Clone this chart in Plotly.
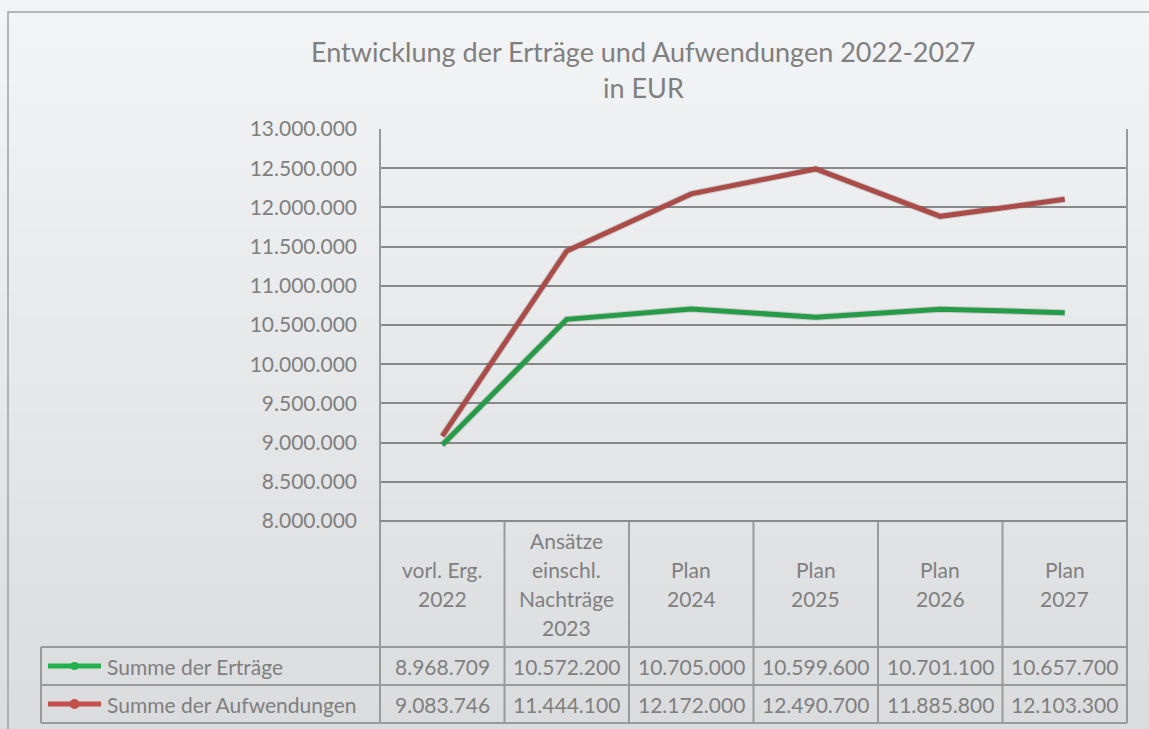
import plotly.graph_objects as go

# ---------------- data ----------------
categories = ["vorl. Erg.<br>2022", "Ansätze<br>einschl.<br>Nachträge<br>2023",
              "Plan<br>2024", "Plan<br>2025", "Plan<br>2026", "Plan<br>2027"]
series_names = ["Summe der Erträge", "Summe der Aufwendungen"]
ertraege = [8968709, 10572200, 10705000, 10599600, 10701100, 10657700]
aufwendungen = [9083746, 11444100, 12172000, 12490700, 11885800, 12103300]
y_ticks = [8000000, 8500000, 9000000, 9500000, 10000000, 10500000,
           11000000, 11500000, 12000000, 12500000, 13000000]
title_lines = ["Entwicklung der Erträge und Aufwendungen 2022-2027", "in EUR"]

# ---------------- style ----------------
W, H = 1149, 729
FONT = "Lato"
FS = 21
TXT = "#7f7f7f"
GRID = "#888888"
BORDER = "#9a9a9a"
colors = ["#22b14c", "#c4504c"]


def px(x):
    return x / W


def py(y):
    return 1 - y / H


def fmt(v):
    return f"{v:,}".replace(",", ".")


PL, PR, PT, PB = 380, 1127, 129, 521      # plot area in pixels
ROWS = [647, 685, 723]                     # table row bottoms
LEG_L = 41
xs = list(range(len(categories)))
series = [ertraege, aufwendungen]

fig = go.Figure()

# shadows
for vals in series:
    fig.add_trace(go.Scatter(x=xs, y=vals, mode="lines", xaxis="x2", yaxis="y2",
                             line=dict(color="rgba(60,60,60,0.18)", width=7),
                             hoverinfo="skip", showlegend=False))
# lines
for name, vals, c in zip(series_names, series, colors):
    fig.add_trace(go.Scatter(x=xs, y=vals, mode="lines", name=name,
                             line=dict(color=c, width=5), showlegend=False))

shapes = []
# background gradient
n = 60
c0, c1 = (243, 244, 245), (219, 220, 222)
for i in range(n):
    t = i / (n - 1)
    col = tuple(round(a + (b - a) * t) for a, b in zip(c0, c1))
    shapes.append(dict(type="rect", xref="paper", yref="paper", layer="below",
                       x0=0, x1=1, y0=py(H * (i + 1) / n + 0.5), y1=py(H * i / n),
                       line=dict(width=0), fillcolor="rgb(%d,%d,%d)" % col))
# outer frame
shapes.append(dict(type="rect", xref="paper", yref="paper", x0=px(8), x1=px(1170),
                   y0=py(750), y1=py(12), line=dict(color="#a0a0a0", width=1.5)))

# plot box verticals extending through table
for xp in (PL, PR):
    shapes.append(dict(type="line", xref="paper", yref="paper", x0=px(xp), x1=px(xp),
                       y0=py(PT), y1=py(ROWS[-1]), line=dict(color=BORDER, width=2)))
# column separators
for i in range(1, len(categories)):
    shapes.append(dict(type="line", xref="x", yref="paper", x0=i - 0.5, x1=i - 0.5,
                       y0=py(PB), y1=py(ROWS[-1]), line=dict(color=BORDER, width=2)))
# legend column left line
shapes.append(dict(type="line", xref="paper", yref="paper", x0=px(LEG_L), x1=px(LEG_L),
                   y0=py(ROWS[0]), y1=py(ROWS[-1]), line=dict(color=BORDER, width=2)))
# horizontal table lines
for yy in ROWS:
    shapes.append(dict(type="line", xref="paper", yref="paper", x0=px(LEG_L), x1=px(PR),
                       y0=py(yy), y1=py(yy), line=dict(color=BORDER, width=2)))
# axis line at bottom of plot
shapes.append(dict(type="line", xref="paper", yref="paper", x0=px(PL), x1=px(PR),
                   y0=py(PB), y1=py(PB), line=dict(color="#8a8a8a", width=2)))

annotations = []
# title
for i, t in enumerate(title_lines):
    annotations.append(dict(text=t, xref="paper", yref="paper", x=px(643), y=py(52 + 36 * i),
                            xanchor="center", yanchor="middle", showarrow=False,
                            font=dict(family=FONT, size=27, color=TXT)))
# header row
hdr_mid = (PB + ROWS[0]) / 2
LH = 28.7
for i, cat in enumerate(categories):
    lines = cat.split("<br>")
    for j, ln in enumerate(lines):
        yy = hdr_mid + (j - (len(lines) - 1) / 2) * LH
        annotations.append(dict(text=ln, xref="x", yref="paper", x=i, y=py(yy),
                                xanchor="center", yanchor="middle", showarrow=False,
                                font=dict(family=FONT, size=FS, color=TXT)))
# data rows + legend keys
for r, (name, vals, c) in enumerate(zip(series_names, series, colors)):
    mid = (ROWS[r] + ROWS[r + 1]) / 2
    for i, v in enumerate(vals):
        annotations.append(dict(text=fmt(v), xref="x", yref="paper", x=i, y=py(mid),
                                xanchor="center", yanchor="middle", showarrow=False,
                                font=dict(family=FONT, size=FS, color=TXT)))
    annotations.append(dict(text=name, xref="paper", yref="paper", x=px(105), y=py(mid),
                            xanchor="left", yanchor="middle", showarrow=False,
                            font=dict(family=FONT, size=FS, color=TXT)))
    shapes.append(dict(type="line", xref="paper", yref="paper", x0=px(48), x1=px(101),
                       y0=py(mid), y1=py(mid), line=dict(color=c, width=5)))
    rr = 4 if r == 0 else 5
    shapes.append(dict(type="circle", xref="paper", yref="paper",
                       x0=px(74.5 - rr), x1=px(74.5 + rr), y0=py(mid + rr), y1=py(mid - rr),
                       fillcolor=c, line=dict(width=0)))

fig.update_layout(
    width=W, height=H,
    margin=dict(l=0, r=0, t=0, b=0, pad=0, autoexpand=False),
    paper_bgcolor="#e8e9eb", plot_bgcolor="rgba(0,0,0,0)",
    separators=",.",
    showlegend=False,
    hovermode=False,
    shapes=shapes,
    annotations=annotations,
    xaxis=dict(domain=[px(PL), px(PR)], range=[-0.5, len(categories) - 0.5],
               showgrid=False, zeroline=False, showticklabels=False, showline=False,
               fixedrange=True, automargin=False),
    yaxis=dict(domain=[py(PB), py(PT)], range=[y_ticks[0], y_ticks[-1]],
               tickvals=y_ticks, tickformat=",.0f", showgrid=True, gridcolor=GRID,
               gridwidth=2, zeroline=False, showline=False, ticks="",
               ticklabelstandoff=22, automargin=False, fixedrange=True,
               tickfont=dict(family=FONT, size=FS, color=TXT)),
    xaxis2=dict(domain=[px(PL + 3), px(PR + 3)], range=[-0.5, len(categories) - 0.5],
                overlaying="x", visible=False, automargin=False),
    yaxis2=dict(domain=[py(PB + 4), py(PT + 4)], range=[y_ticks[0], y_ticks[-1]],
                overlaying="y", visible=False, automargin=False),
    font=dict(family=FONT, color=TXT),
)

fig.write_html("out.html",
               config={"displayModeBar": False, "staticPlot": True},
               post_script="document.body.style.margin='0px';"
                           "document.body.style.overflow='hidden';")
